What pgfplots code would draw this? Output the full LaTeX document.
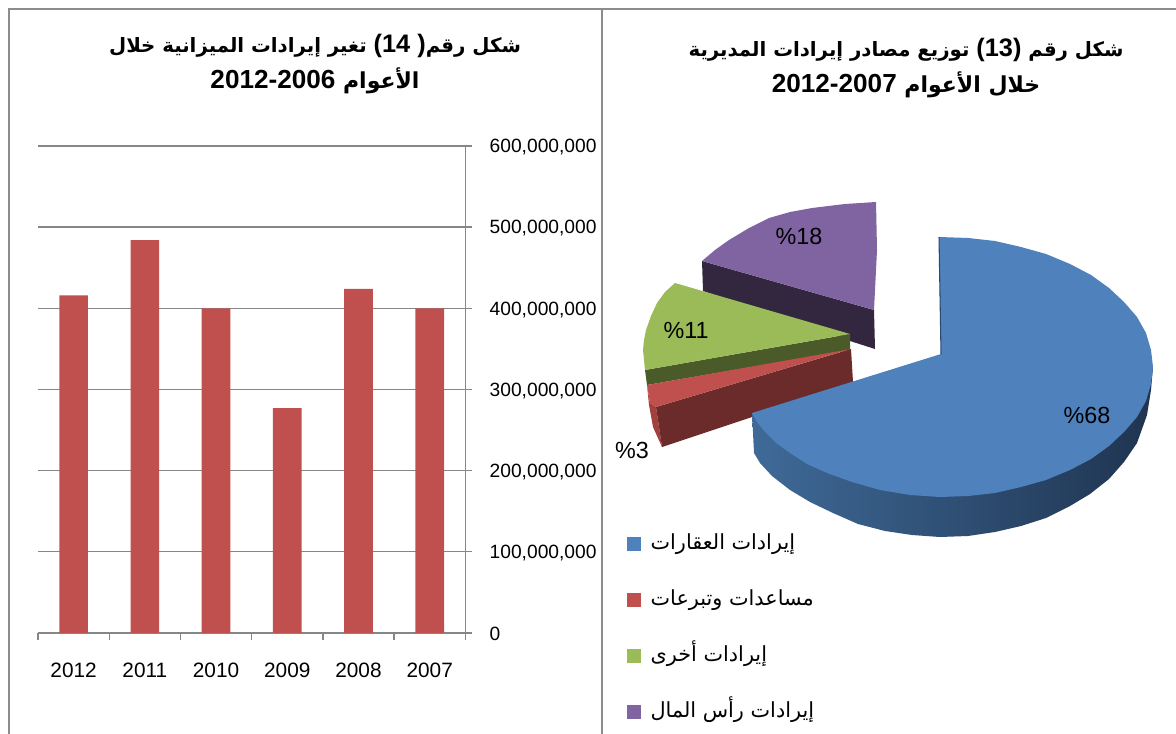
\documentclass[border=0pt]{standalone}
\usepackage{fontspec}
\usepackage{pgfplots}
\pgfplotsset{compat=1.18}
\setmainfont{Liberation Sans}
\newfontfamily\arabicfont[Script=Arabic]{DejaVu Sans}
\TeXXeTstate=1

\definecolor{blueface}{HTML}{4F81BD}
\definecolor{redface}{HTML}{C0504D}
\definecolor{greenface}{HTML}{9BBB59}
\definecolor{purpleface}{HTML}{8064A2}
\definecolor{purpleside}{HTML}{33263F}
\definecolor{greenside}{HTML}{4A5A28}
\definecolor{redside}{HTML}{6A2B2A}
\definecolor{redrim}{HTML}{A33F3D}
\definecolor{blueleft}{HTML}{3F6A98}
\definecolor{bluemid}{HTML}{233B5C}
\definecolor{blueright}{HTML}{1F3450}
\definecolor{blueedge}{HTML}{2A4A70}
\definecolor{frame}{HTML}{8C8C8C}
\definecolor{axisgray}{HTML}{868686}

\newcommand{\lbl}{\fontsize{14.4}{17}\selectfont}
\newcommand{\pct}{\fontsize{17.5}{20}\selectfont}
\newcommand{\ttl}{\fontsize{14.8}{26.5}\selectfont\bfseries}
\newcommand{\ttlb}{\fontsize{16.5}{26.5}\selectfont}
% bold latin inside a right-to-left line
\newcommand{\lat}[2]{\beginL{\normalfont\bfseries\fontsize{#1}{26.5}\selectfont #2}\endL{}}

\begin{document}
\begin{tikzpicture}
\useasboundingbox (0,0) rectangle (882pt,550.5pt);
% pie and frame, axis units are reference pixels
\begin{axis}[
    at={(0pt,0pt)}, anchor=south west,
    scale only axis,
    width=882pt, height=550.5pt,
    xmin=0, xmax=1176, ymin=0, ymax=734,
    y dir=reverse,
    hide axis,
    reverse legend,
    legend cell align=left,
    legend style={
        at={(axis cs:623,528)}, anchor=north west,
        draw=none, fill=none,
        font=\fontsize{15.6}{17}\selectfont,
        row sep=22pt,
        nodes={text height=12pt, text depth=4pt},
        /tikz/every odd column/.append style={column sep=5pt},
    },
    legend image code/.code={
        \fill[#1] (0pt,-5.25pt) rectangle (10.5pt,5.25pt);
    },
]
% purple slice
\addplot[fill=purpleside, draw=none, forget plot] coordinates {
    (702,261) (874,310) (875,349) (850,341) (703,291)} -- cycle;
\addplot[fill=purpleface, draw=none] coordinates {
    (702,261) (715,250) (729,240) (749,228) (769,218) (790,212) (812,208) (845,204)
    (876,202) (877,250) (874,310)} -- cycle;
\addlegendentry{\arabicfont\beginR إيرادات رأس المال\endR}
% green slice
\addplot[fill=greenside, draw=none, forget plot] coordinates {
    (645,370) (850,334) (850,350) (647,385)} -- cycle;
\addplot[fill=greenface, draw=none] coordinates {
    (675,283) (665,292) (657,303) (651,316) (646,330) (644,340) (643,350) (644,360)
    (645,370) (850,334)} -- cycle;
\addlegendentry{\arabicfont\beginR إيرادات أخرى\endR}
% red slice
\addplot[fill=redrim, draw=none, forget plot] coordinates {
    (647,385) (650,403) (656,407) (662,447) (653,427) (649,405)} -- cycle;
\addplot[fill=redside, draw=none, forget plot] coordinates {
    (656,407) (851,349) (853,382) (752,417) (662,447)} -- cycle;
\addplot[fill=redface, draw=none] coordinates {
    (647,385) (851,349) (656,407) (650,403)} -- cycle;
\addlegendentry{\arabicfont\beginR مساعدات وتبرعات\endR}
% blue slice
\addplot[left color=blueleft, middle color=bluemid, right color=blueright,
    draw=none, forget plot] coordinates {
    (752,413) (754,453) (760,463) (772,476) (790,490) (810,502) (833,513) (858,524)
    (885,531) (912,535) (940,537) (968,536) (995,532) (1021,526) (1046,518) (1070,506)
    (1090,494) (1109,479) (1124,462) (1137,443) (1147,415) (1151,390) (1153,367)
    (1100,400) (949,450)} -- cycle;
\addplot[fill=blueface, draw=none] coordinates {
    (939,237) (968,238) (995,241) (1021,247) (1046,254) (1070,264) (1091,275) (1109,288)
    (1124,302) (1137,317) (1146,333) (1151,350) (1153,367) (1151,384) (1146,401)
    (1137,417) (1124,432) (1109,446) (1091,459) (1070,470) (1046,480) (1021,487)
    (995,493) (968,496) (940,497) (910,495) (880,490) (852,482) (827,473) (807,464)
    (790,453) (776,443) (765,432) (757,422) (752,413) (941,354)} -- cycle;
\addlegendentry{\arabicfont\beginR إيرادات العقارات\endR}
\addplot[draw=blueedge, line width=0.8pt, forget plot] coordinates {
    (939,237) (941,354)};

% frame of the two panels
\draw[frame, line width=2.1pt] (axis cs:9,734) -- (axis cs:9,9) -- (axis cs:1176,9);
\draw[frame, line width=2.1pt] (axis cs:602,9) -- (axis cs:602,734);

% data labels
\node[font=\pct] at (axis cs:1087,415) {\%68};
\node[font=\pct] at (axis cs:799,236) {\%18};
\node[font=\pct] at (axis cs:686,330) {\%11};
\node[font=\pct] at (axis cs:632,450) {\%3};

% titles
\node[align=center, font=\ttl] at (axis cs:906,68) {%
    \arabicfont\beginR شكل رقم \lat{19}{(13)} توزيع مصادر إيرادات المديرية\endR\\
    \arabicfont\ttlb\beginR خلال الأعوام \lat{19.6}{2012-2007}\endR};
\node[align=center, font=\ttl] at (axis cs:315,64) {%
    \arabicfont\beginR شكل رقم\lat{19}{(14 )} تغير إيرادات الميزانية خلال\endR\\
    \arabicfont\ttlb\beginR الأعوام \lat{19.6}{2012-2006}\endR};
\end{axis}

% budget revenue bars
\begin{axis}[
    at={(28.5pt,75.75pt)}, anchor=south west,
    scale only axis,
    width=320.5pt, height=365.25pt,
    ybar,
    bar width=21.5pt,
    xmin=-0.5, xmax=5.5,
    ymin=0, ymax=600000000,
    axis x line=bottom, axis y line=right,
    axis line style={axisgray, line width=1.1pt, -},
    xtick={0,1,2,3,4,5},
    xticklabels={2012,2011,2010,2009,2008,2007},
    minor xtick={-0.5,0.5,1.5,2.5,3.5,4.5,5.5},
    major x tick style={draw=none},
    minor x tick style={axisgray, line width=1pt},
    minor tick length=5pt,
    ytick={0,100000000,200000000,300000000,400000000,500000000,600000000},
    y tick style={axisgray, line width=1pt},
    major tick length=5.25pt,
    tick align=outside,
    ymajorgrids,
    grid style={axisgray, line width=1pt},
    scaled y ticks=false,
    yticklabel style={font=\lbl, yshift=-1pt, /pgf/number format/.cd, fixed, precision=0, 1000 sep={,}, assume math mode=true},
    xticklabel style={font=\fontsize{15.6}{17}\selectfont, /pgf/number format/assume math mode=true, /pgf/number format/set thousands separator={}},
    tick label style={black},
    xticklabel shift=14pt,
    yticklabel shift=9.5pt,
]
\addplot[fill=redface, draw=none] coordinates {
    (0,416000000) (1,484000000) (2,400000000) (3,277000000) (4,424000000) (5,400000000)};
\end{axis}
\end{tikzpicture}
\end{document}
